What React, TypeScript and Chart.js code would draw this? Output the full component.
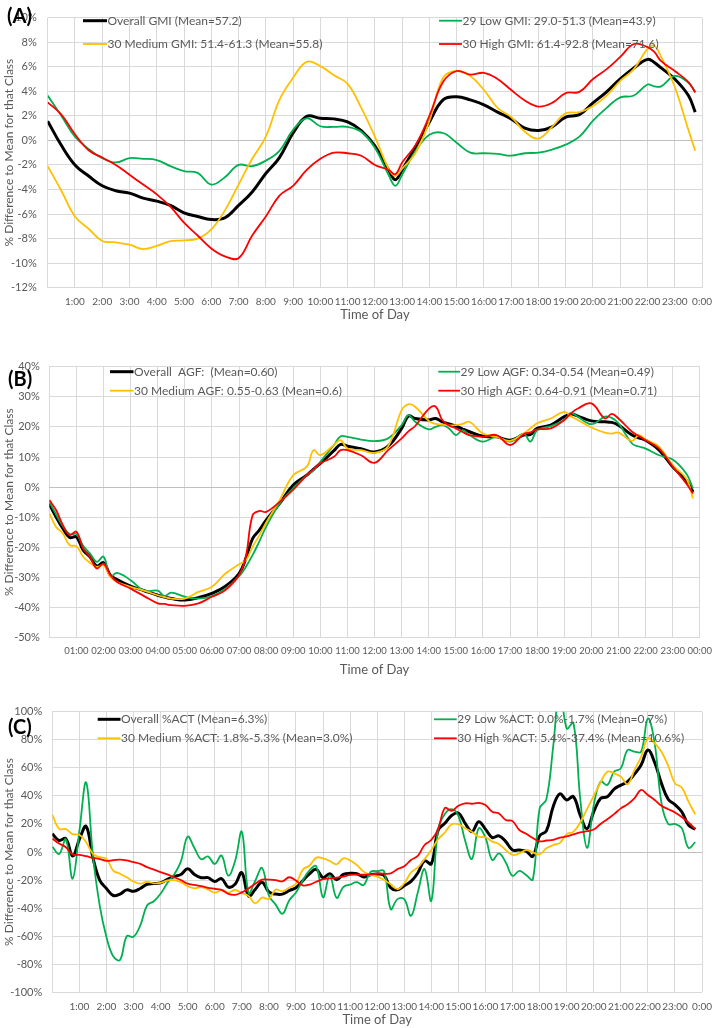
import React, { useEffect, useRef } from 'react';
import { Chart, registerables } from 'chart.js';

Chart.register(...registerables);

const FONT = "Lato, 'Liberation Sans', sans-serif";
const TEXT = '#595959';
const GRID = '#D9D9D9';
const ZERO = '#BFBFBF';
const BLACK = '#000000';
const GREEN = '#00B050';
const GOLD = '#FFC000';
const RED = '#FF0000';

// ---------- Panel A : GMI ----------
const hoursA = [0, 0.5, 1, 1.5, 2, 2.5, 3, 3.5, 4, 4.5, 5, 5.5, 6, 6.5, 7, 7.5, 8, 8.5, 9, 9.5, 10, 10.5, 11, 11.5, 12, 12.5, 12.75, 13, 13.5, 14, 14.5, 15, 15.5, 16, 16.5, 17, 17.5, 18, 18.5, 19, 19.5, 20, 20.5, 21, 21.5, 22, 22.25, 22.5, 23, 23.5, 23.75];
const gmiOverall = [1.56, -0.4, -2.0, -2.9, -3.7, -4.1, -4.3, -4.7, -4.95, -5.3, -5.9, -6.2, -6.45, -6.3, -5.3, -4.2, -2.7, -1.4, 0.6, 1.95, 1.8, 1.75, 1.5, 0.8, -0.45, -2.4, -3.2, -2.4, -0.5, 1.5, 3.3, 3.55, 3.3, 2.9, 2.3, 1.75, 1.0, 0.8, 1.1, 1.9, 2.1, 3.05, 3.95, 5.0, 5.9, 6.6, 6.35, 5.9, 5.0, 3.65, 2.3];
const gmiLow = [3.65, 2.0, 0.3, -0.7, -1.45, -1.8, -1.45, -1.5, -1.6, -2.1, -2.5, -2.65, -3.6, -3.0, -2.0, -2.1, -1.65, -0.85, 0.85, 1.8, 1.15, 1.1, 1.1, 0.7, -0.6, -2.8, -3.7, -2.8, -0.85, 0.45, 0.6, -0.2, -1.0, -1.05, -1.1, -1.25, -1.05, -1.0, -0.75, -0.35, 0.3, 1.6, 2.65, 3.5, 3.65, 4.55, 4.4, 4.4, 5.25, 4.7, 3.95];
const gmiMedium = [-2.1, -4.1, -6.2, -7.2, -8.2, -8.3, -8.5, -8.85, -8.6, -8.2, -8.15, -8.0, -7.25, -5.7, -3.6, -1.5, 0.3, 3.3, 5.1, 6.4, 6.05, 5.3, 4.6, 2.65, 0.3, -2.3, -2.9, -2.3, -1.0, 1.6, 5.1, 5.65, 5.25, 4.1, 2.65, 1.9, 0.7, 0.15, 1.1, 2.2, 2.3, 2.8, 3.65, 4.85, 5.8, 7.45, 7.7, 6.8, 4.35, 0.85, -0.85];
const gmiHigh = [3.1, 2.1, 0.5, -0.8, -1.4, -2.0, -2.8, -3.6, -4.4, -5.4, -6.7, -7.75, -8.8, -9.45, -9.6, -7.75, -6.2, -4.5, -3.7, -2.4, -1.5, -1.0, -1.05, -1.25, -2.0, -2.4, -2.75, -1.8, -0.35, 2.0, 4.75, 5.65, 5.35, 5.5, 5.0, 4.1, 3.25, 2.75, 3.05, 3.85, 3.95, 5.0, 5.8, 6.8, 7.85, 7.6, 7.2, 6.45, 5.65, 4.75, 3.9];
const labelsA = ['Overall GMI (Mean=57.2)', '29 Low GMI: 29.0-51.3 (Mean=43.9)', '30 Medium GMI: 51.4-61.3 (Mean=55.8)', '30 High GMI: 61.4-92.8 (Mean=71.6)'];
const xTicksA = ['', '1:00', '2:00', '3:00', '4:00', '5:00', '6:00', '7:00', '8:00', '9:00', '10:00', '11:00', '12:00', '13:00', '14:00', '15:00', '16:00', '17:00', '18:00', '19:00', '20:00', '21:00', '22:00', '23:00', '0:00'];

// ---------- Panel B : AGF ----------
const hoursB = [0, 0.25, 0.5, 0.75, 1, 1.25, 1.5, 1.75, 2, 2.25, 2.5, 3, 3.5, 4, 4.25, 4.5, 5, 5.5, 6, 6.5, 7, 7.25, 7.5, 7.75, 8, 8.5, 9, 9.5, 9.75, 10, 10.5, 10.75, 11, 11.5, 12, 12.5, 13, 13.25, 13.5, 14, 14.25, 14.5, 14.75, 15, 15.25, 15.5, 16, 16.5, 17, 17.5, 17.75, 18, 18.5, 19, 19.25, 19.5, 20, 20.5, 20.75, 21, 21.5, 21.75, 22, 22.5, 23, 23.5, 23.75];
const agfOverall = [-5.6, -9.9, -13.7, -16.7, -16.5, -20.9, -23.1, -26.2, -25.1, -29.2, -30.7, -32.9, -34.4, -35.9, -36.5, -37.0, -37.5, -36.7, -35.3, -32.9, -28.7, -23.7, -17.1, -14.3, -11.0, -5.4, 0.7, 4.0, 6.0, 7.9, 12.1, 14.2, 13.6, 12.8, 11.7, 13.6, 19.5, 23.6, 22.8, 22.3, 22.8, 21.7, 21.0, 20.3, 19.3, 18.4, 16.9, 16.7, 15.6, 17.3, 17.5, 19.5, 20.6, 23.4, 24.3, 23.6, 22.0, 21.7, 21.5, 20.6, 17.3, 16.4, 15.6, 12.3, 6.8, 2.3, -1.6];
const agfLow = [-4.9, -9.0, -13.0, -15.6, -15.6, -19.5, -22.0, -24.8, -23.1, -29.6, -28.5, -30.9, -34.4, -34.4, -36.2, -35.0, -36.4, -37.0, -36.2, -33.7, -29.6, -26.5, -22.6, -18.0, -13.2, -5.4, -0.4, 4.0, 5.5, 8.4, 14.0, 16.9, 16.7, 15.8, 15.3, 16.2, 20.6, 23.9, 21.7, 19.2, 20.0, 20.6, 19.5, 17.3, 18.9, 17.3, 15.1, 16.7, 15.1, 17.8, 15.1, 18.9, 20.3, 22.3, 24.5, 23.4, 20.9, 23.4, 23.0, 21.2, 14.5, 13.5, 12.8, 10.6, 9.2, 4.5, -0.4];
const agfMedium = [-8.7, -13.2, -15.4, -19.3, -19.6, -23.1, -25.1, -26.5, -25.9, -29.8, -31.5, -33.1, -34.4, -35.9, -36.5, -37.0, -37.0, -34.8, -33.1, -28.7, -25.6, -24.3, -19.8, -16.0, -11.8, -4.3, 4.0, 6.8, 12.3, 10.6, 14.0, 15.6, 12.8, 12.3, 11.4, 13.6, 25.6, 27.5, 26.7, 22.0, 21.0, 20.8, 20.5, 20.6, 21.0, 21.7, 17.8, 16.7, 15.4, 17.8, 19.5, 21.2, 22.8, 25.0, 23.5, 22.3, 19.8, 18.1, 17.8, 18.1, 15.4, 17.3, 15.8, 13.4, 7.3, 2.9, -3.8];
const agfHigh = [-4.3, -7.6, -12.6, -15.9, -14.8, -20.4, -23.1, -27.0, -25.4, -29.2, -31.5, -33.7, -36.2, -38.6, -38.8, -39.2, -39.4, -38.6, -36.4, -34.2, -29.2, -23.1, -9.3, -7.9, -8.2, -4.9, -0.8, 4.0, 6.0, 7.9, 10.1, 12.3, 12.3, 10.6, 8.1, 12.3, 16.2, 18.5, 20.3, 26.0, 26.8, 22.3, 20.5, 19.5, 18.3, 17.3, 16.7, 17.3, 14.0, 17.6, 18.2, 19.2, 19.5, 22.3, 24.5, 26.1, 27.8, 22.8, 24.3, 22.8, 18.4, 17.0, 15.6, 12.8, 6.8, 1.2, -2.1];
const labelsB = ['Overall  AGF:  (Mean=0.60)', '29 Low AGF: 0.34-0.54 (Mean=0.49)', '30 Medium AGF: 0.55-0.63 (Mean=0.6)', '30 High AGF: 0.64-0.91 (Mean=0.71)'];
const xTicksB = ['', '01:00', '02:00', '03:00', '04:00', '05:00', '06:00', '07:00', '08:00', '09:00', '10:00', '11:00', '12:00', '13:00', '14:00', '15:00', '16:00', '17:00', '18:00', '19:00', '20:00', '21:00', '22:00', '23:00', '00:00'];

// ---------- Panel C : %ACT ----------
const hoursC = [0, 0.25, 0.5, 0.75, 1, 1.25, 1.5, 1.75, 2, 2.25, 2.5, 2.75, 3, 3.25, 3.5, 3.75, 4, 4.25, 4.5, 4.75, 5, 5.25, 5.5, 5.75, 6, 6.25, 6.5, 6.75, 7, 7.25, 7.5, 7.75, 8, 8.25, 8.5, 8.75, 9, 9.25, 9.5, 9.75, 10, 10.25, 10.5, 10.75, 11, 11.25, 11.5, 11.75, 12, 12.25, 12.5, 12.75, 13, 13.25, 13.5, 13.75, 14, 14.25, 14.5, 14.75, 15, 15.25, 15.5, 15.75, 16, 16.25, 16.5, 16.75, 17, 17.25, 17.5, 17.75, 18, 18.25, 18.5, 18.75, 19, 19.25, 19.5, 19.75, 20, 20.25, 20.5, 20.75, 21, 21.25, 21.5, 21.75, 22, 22.25, 22.5, 22.75, 23, 23.25, 23.5, 23.75];
const actOverall = [13, 8.2, 9.5, -2.8, 9, 18.3, -4, -20, -26, -31, -30, -27, -28, -26, -23, -22.5, -22, -19.5, -17.5, -16, -12, -16, -18.3, -18.3, -21, -19, -25, -23, -14.7, -31.4, -26.5, -21.5, -28.5, -30, -30, -27.5, -25.5, -20.5, -15.5, -12.4, -18.3, -15.5, -19.8, -16, -15.2, -15.5, -17.8, -16.2, -15.6, -16.6, -25.5, -27, -24, -21, -15, -6.3, -8.5, 15.5, 20.5, 26, 27.8, 20.4, 14.5, 21.6, 16.3, 10.3, 11.5, 7.4, 1.4, 1.4, 0.6, -3, 11.5, 15, 32.3, 41.5, 37.1, 39.4, 26.2, 16.6, 28.7, 38.2, 39.4, 44.8, 47.7, 50.1, 55.5, 62, 72.7, 63.8, 48.9, 37.6, 33.7, 28.7, 19.2, 16.2];
const actLow = [3.8, -1.4, 9, -19, 15, 49.5, -2.5, -38, -60.6, -74.3, -77, -60, -60.4, -52.3, -38.1, -35.1, -29.8, -22.1, -16.1, -6.7, 10.9, 2.8, -5.2, -3.1, -8.5, -2.5, -16.8, -6.6, 14.4, -29.2, -20.3, -11.4, -31, -37.5, -44, -34.5, -28.8, -20.3, -13.1, -10.2, -32.2, -16.7, -32.7, -25, -23.2, -21.5, -23.6, -14.3, -13.6, -13.6, -40.7, -33.6, -33.6, -45.5, -28.9, -12.2, -34.8, 16.2, 27, 30.5, 25.8, 8, -5, 16.9, 10.3, -5.7, -1, -7.5, -17, -13.4, -16.4, -19.6, 31, 37.6, 75, 118, 88, 92, 38, 3, 33.5, 50.1, 47.7, 57.2, 59.6, 72.7, 71.5, 71.5, 95.2, 77.4, 35, 20, 20, 17, 3, 7];
const actMedium = [26.6, 16.5, 16.3, 12.7, 12.3, 7, -1.3, -3.7, -4.9, -13.2, -15.5, -18, -21, -22.6, -21.2, -22.3, -22, -20.2, -20.1, -21.5, -24.4, -25.9, -25, -26.6, -29, -27.1, -29, -27.1, -29.2, -31.4, -36.6, -32.5, -33.4, -26.8, -28, -25.4, -22.7, -12.6, -9.8, -4, -4.6, -6.4, -8.8, -4.5, -6, -9.3, -14, -16.3, -17.5, -20, -22.9, -26.5, -22.3, -14.6, -11, -5.1, 1.4, 9.1, 13.9, 19.8, 19.8, 16.9, 14.5, 10.9, 10.5, 7.4, 5.6, 1.4, -2.1, -1, 1.4, -0.2, -1.7, 2.6, 5, 6.5, 12.7, 14.5, 21, 30.5, 40, 49.5, 57.2, 56.1, 53.7, 48.3, 58.4, 67.9, 81, 77.4, 71.5, 61.4, 48.9, 46, 35.9, 26.8];
const actHigh = [9.6, 6, 3.4, -1.7, -2.1, -3, -4.2, -5, -6.3, -5.8, -5.4, -6, -7.2, -8.5, -10.8, -12.5, -14.3, -16, -18, -20, -22.6, -23.5, -24.4, -25.5, -26.2, -27, -29.8, -30.5, -28.8, -26, -22.6, -19.7, -19.7, -20, -20.9, -18, -20.3, -23.8, -23.2, -21.2, -19.4, -18.8, -18.3, -17.5, -16.3, -16.1, -16.1, -16, -15.5, -15.5, -15.3, -12.2, -10.2, -5.7, -2.8, 5, 8.6, 16.2, 31.4, 29.3, 33, 34.7, 34.4, 35, 33.5, 28.7, 27.5, 22.8, 22, 15.7, 13, 10, 7.6, 8.2, 8.7, 10.2, 11.1, 12.5, 13.9, 14.8, 16, 20, 23.4, 27, 31.1, 34, 38.2, 44.2, 40.6, 37.1, 32.9, 30.5, 28.2, 25, 21, 16.3];
const labelsC = ['Overall %ACT (Mean=6.3%)', '29 Low %ACT: 0.0%-1.7% (Mean=0.7%)', '30 Medium %ACT: 1.8%-5.3% (Mean=3.0%)', '30 High %ACT: 5.4%-37.4% (Mean=10.6%)'];
const xTicksC = ['', '1:00', '2:00', '3:00', '4:00', '5:00', '6:00', '7:00', '8:00', '9:00', '10:00', '11:00', '12:00', '13:00', '14:00', '15:00', '16:00', '17:00', '18:00', '19:00', '20:00', '21:00', '22:00', '23:00', '0:00'];

const yTitle = '% Difference to Mean for that Class';
const xTitle = 'Time of Day';

type Series = { label: string; data: number[]; color: string; width: number; order: number };
type LegendPos = { x1: number; x2: number; y: number };
type Panel = {
  top: number;
  height: number;
  hours: number[];
  series: Series[];
  xTicks: string[];
  xTickSize: number;
  yMin: number;
  yMax: number;
  yStep: number;
  area: { left: number; right: number; top: number; bottom: number };
  xBoxBottom: number;
  yTickPad: number;
  tag: string;
  tagPos: { x: number; y: number };
  legend: LegendPos[];
};

function mkSeries(labels: string[], o: number[], l: number[], m: number[], h: number[]): Series[] {
  return [
    { label: labels[0], data: o, color: BLACK, width: 3, order: 4 },
    { label: labels[1], data: l, color: GREEN, width: 1.8, order: 3 },
    { label: labels[2], data: m, color: GOLD, width: 1.8, order: 2 },
    { label: labels[3], data: h, color: RED, width: 1.8, order: 1 },
  ];
}

const panels: Panel[] = [
  {
    top: 0, height: 340, hours: hoursA,
    series: mkSeries(labelsA, gmiOverall, gmiLow, gmiMedium, gmiHigh),
    xTicks: xTicksA, xTickSize: 10, yMin: -12, yMax: 10, yStep: 2,
    area: { left: 47.7, right: 708, top: 6, bottom: 287.7 },
    xBoxBottom: 322.8, yTickPad: 11,
    tag: '(A)', tagPos: { x: 7, y: 17 },
    legend: [
      { x1: 83, x2: 107, y: 20.7 },
      { x1: 439, x2: 462, y: 20.7 },
      { x1: 83, x2: 107, y: 44 },
      { x1: 439, x2: 462, y: 44 },
    ],
  },
  {
    top: 340, height: 345, hours: hoursB,
    series: mkSeries(labelsB, agfOverall, agfLow, agfMedium, agfHigh),
    xTicks: xTicksB, xTickSize: 9.5, yMin: -50, yMax: 40, yStep: 10,
    area: { left: 49.3, right: 706.7, top: 26.7, bottom: 297.7 },
    xBoxBottom: 337.8, yTickPad: 9.5,
    tag: '(B)', tagPos: { x: 8, y: 40 },
    legend: [
      { x1: 110, x2: 133.5, y: 31.7 },
      { x1: 438.3, x2: 460, y: 31.7 },
      { x1: 110, x2: 133.5, y: 50.7 },
      { x1: 438.3, x2: 460, y: 50.7 },
    ],
  },
  {
    top: 685, height: 343, hours: hoursC,
    series: mkSeries(labelsC, actOverall, actLow, actMedium, actHigh),
    xTicks: xTicksC, xTickSize: 10, yMin: -100, yMax: 100, yStep: 20,
    area: { left: 52.3, right: 709, top: 26.7, bottom: 307.3 },
    xBoxBottom: 342.8, yTickPad: 10,
    tag: '(C)', tagPos: { x: 8, y: 42.5 },
    legend: [
      { x1: 97.7, x2: 120.5, y: 34.3 },
      { x1: 434, x2: 456.7, y: 34.3 },
      { x1: 97.7, x2: 120.5, y: 53.3 },
      { x1: 434, x2: 456.7, y: 53.3 },
    ],
  },
];

function makeConfig(p: Panel): any {
  const overlay = {
    id: 'overlay' + p.tag,
    afterDatasetsDraw(chart: any) {
      const ctx = chart.ctx;
      ctx.save();
      p.legend.forEach((pos, i) => {
        const s = p.series[i];
        ctx.strokeStyle = s.color;
        ctx.lineWidth = s.width;
        ctx.lineCap = 'butt';
        ctx.beginPath();
        ctx.moveTo(pos.x1, pos.y);
        ctx.lineTo(pos.x2, pos.y);
        ctx.stroke();
        ctx.fillStyle = TEXT;
        ctx.font = `12px ${FONT}`;
        ctx.textBaseline = 'middle';
        ctx.textAlign = 'left';
        ctx.fillText(s.label, pos.x2 + 0.5, pos.y);
      });
      ctx.fillStyle = '#000000';
      ctx.font = `bold 20px ${FONT}`;
      ctx.textBaseline = 'middle';
      ctx.textAlign = 'left';
      ctx.fillText(p.tag, p.tagPos.x, p.tagPos.y);
      ctx.restore();
    },
  };
  return {
    type: 'line',
    data: {
      datasets: p.series.map((s) => ({
        label: s.label,
        data: p.hours.map((h, i) => ({ x: h, y: s.data[i] })),
        borderColor: s.color,
        backgroundColor: s.color,
        borderWidth: s.width,
        pointRadius: 0,
        pointHoverRadius: 0,
        tension: 0.4,
        fill: false,
        order: s.order,
      })),
    },
    options: {
      responsive: false,
      animation: false,
      events: [],
      layout: {
        padding: {
          left: 0,
          right: 720 - p.area.right,
          top: p.area.top,
          bottom: p.height - p.xBoxBottom,
        },
      },
      plugins: {
        legend: { display: false },
        tooltip: { enabled: false },
        title: { display: false },
      },
      scales: {
        x: {
          type: 'linear',
          min: 0,
          max: 24,
          afterFit: (s: any) => { s.height = p.xBoxBottom - p.area.bottom; },
          ticks: {
            stepSize: 1,
            autoSkip: false,
            maxRotation: 0,
            minRotation: 0,
            padding: 8,
            color: TEXT,
            font: { family: FONT, size: p.xTickSize },
            callback: (v: any) => p.xTicks[Math.round(Number(v))] ?? '',
          },
          grid: { color: GRID, drawTicks: false, lineWidth: 1 },
          border: { display: false },
          title: {
            display: true,
            text: xTitle,
            color: TEXT,
            font: { family: FONT, size: 13 },
            padding: { top: 0, bottom: 0 },
          },
        },
        y: {
          type: 'linear',
          min: p.yMin,
          max: p.yMax,
          afterFit: (s: any) => { s.width = p.area.left; },
          ticks: {
            stepSize: p.yStep,
            padding: p.yTickPad,
            color: TEXT,
            font: { family: FONT, size: 11 },
            callback: (v: any) => `${v}%`,
          },
          grid: {
            color: (c: any) => (c.tick && c.tick.value === 0 ? ZERO : GRID),
            drawTicks: false,
            lineWidth: 1,
          },
          border: { display: false },
          title: {
            display: true,
            text: yTitle,
            color: TEXT,
            font: { family: FONT, size: 12 },
            padding: { top: 2, bottom: 0 },
          },
        },
      },
    },
    plugins: [overlay],
  };
}

function ChartPanel({ panel }: { panel: Panel }) {
  const ref = useRef<HTMLCanvasElement | null>(null);
  useEffect(() => {
    if (!ref.current) return;
    const chart = new Chart(ref.current, makeConfig(panel));
    return () => chart.destroy();
  }, [panel]);
  return (
    <canvas
      ref={ref}
      width={720}
      height={panel.height}
      style={{ position: 'absolute', left: 0, top: panel.top, width: 720, height: panel.height }}
    />
  );
}

export default function App() {
  return (
    <div style={{ position: 'absolute', left: 0, top: 0, width: 720, height: 1028, background: '#ffffff', overflow: 'hidden' }}>
      {panels.map((p) => (
        <ChartPanel key={p.tag} panel={p} />
      ))}
    </div>
  );
}
